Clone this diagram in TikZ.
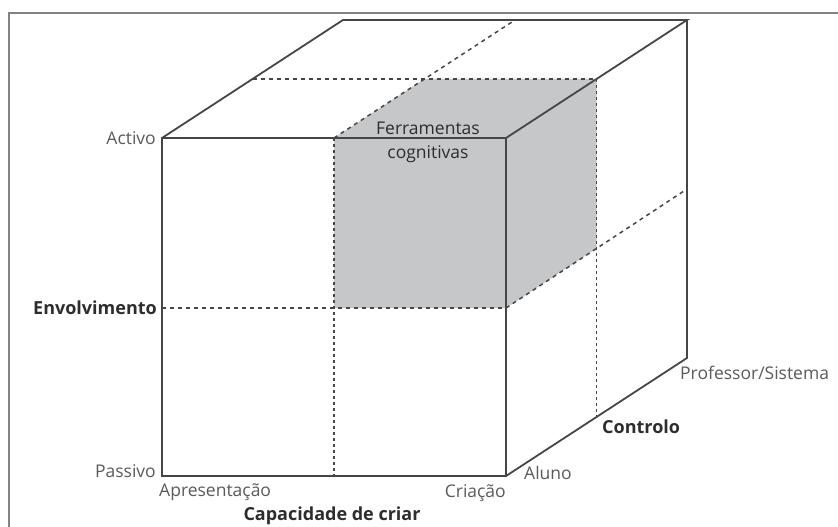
\documentclass[tikz,border=0pt]{standalone}
\usepackage{fontspec}
\setmainfont{Open Sans}
\definecolor{lbl}{RGB}{90,90,90}
\definecolor{lbldark}{RGB}{45,45,45}
\definecolor{edge}{RGB}{70,70,70}
\definecolor{cubegray}{RGB}{198,199,201}
\definecolor{framegray}{RGB}{130,130,130}
\begin{document}
\begin{tikzpicture}[x=1pt,y=-1pt,
  solidedge/.style={draw=edge,line width=1.8pt},
  dashedge/.style={draw=edge,line width=1.5pt,dash pattern=on 4pt off 4pt},
  lab/.style={font=\fontsize{17.5}{20}\selectfont,text=lbl,inner sep=0pt},
  boldlab/.style={font=\fontsize{18}{20}\selectfont\bfseries,text=lbldark,inner sep=0pt}]
\useasboundingbox (0,0) rectangle (838,527);
% frame
\draw[framegray,line width=2.5pt] (9,527) -- (9,13) -- (838,13);
% corners
\coordinate (F1) at (162,138);
\coordinate (F2) at (506,138);
\coordinate (F3) at (506,476);
\coordinate (F4) at (162,476);
\coordinate (B1) at (343,20);
\coordinate (B2) at (687,20);
\coordinate (B3) at (687,358);
\coordinate (FTm) at (334,138);
\coordinate (FBm) at (334,476);
\coordinate (FLm) at (162,308);
\coordinate (FRm) at (506,308);
\coordinate (FC) at (334,308);
\coordinate (TLm) at (252.5,79);
\coordinate (TRm) at (596.5,79);
\coordinate (BTm) at (515,20);
\coordinate (RRm) at (687,189);
\coordinate (RBm) at (596.5,417);
\coordinate (G5) at (424.5,79);
\coordinate (G7) at (596.5,248.5);
% shaded sub-cube
\fill[cubegray] (FTm) -- (G5) -- (TRm) -- (G7) -- (FRm) -- (FC) -- cycle;
% dashed lines
\draw[dashedge] (FLm) -- (FRm);
\draw[dashedge,dash pattern=on 3pt off 3pt] (FTm) -- (FBm);
\draw[dashedge] (TLm) -- (TRm);
\draw[dashedge] (FTm) -- (BTm);
\draw[dashedge] (FRm) -- (RRm);
\draw[dashedge,dash pattern=on 3pt off 3pt] (TRm) -- (RBm);
% solid edges
\draw[solidedge] (F1) -- (F2) -- (F3) -- (F4) -- cycle;
\draw[solidedge,line join=miter] (F1) -- (B1) -- (B2) -- (F2);
\draw[solidedge] (B2) -- (B3) -- (F3);
\draw[draw=edge,line width=2.3pt] (FTm) -- (F2) -- (FRm);
% labels
\node[lab,anchor=east] (activo) at (156,138) {Activo};
\node[boldlab,anchor=east] (envolv) at (157,308) {Envolvimento};
\node[lab,anchor=east] (passivo) at (156,471) {Passivo};
\node[lab,anchor=west] (apres) at (159,492) {Apresentação};
\node[lab,anchor=east] (criacao) at (506,493) {Criação};
\node[boldlab] (capac) at (332,516) {Capacidade de criar};
\node[lab,anchor=west] (aluno) at (524,473) {Aluno};
\node[boldlab,anchor=west] (controlo) at (602,427) {Controlo};
\node[lab,anchor=west] (prof) at (680,373) {Professor/Sistema};
\node[lab,text=lbldark,align=center,font=\fontsize{17.5}{24}\selectfont] (ferr) at (428,142) {Ferramentas\\cognitivas};
\end{tikzpicture}
\end{document}
